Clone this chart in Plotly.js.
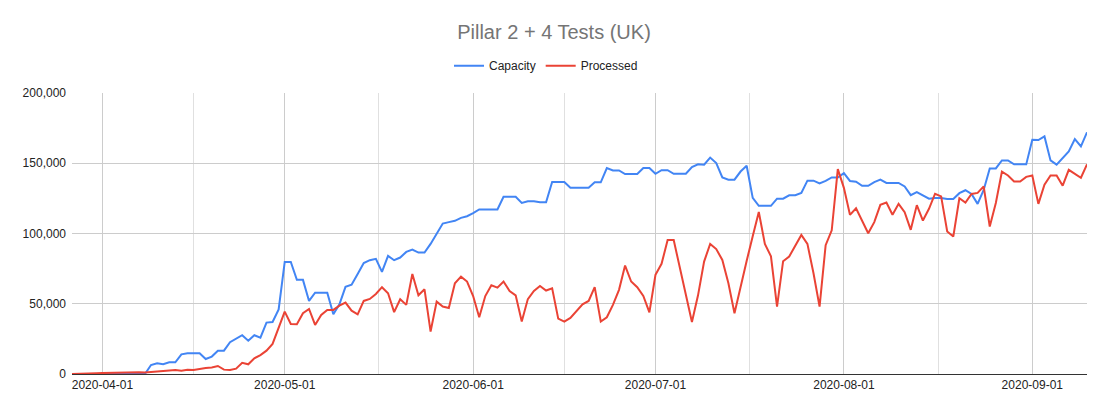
<!DOCTYPE html>
<html>
<head>
<meta charset="utf-8">
<script src="https://cdn.plot.ly/plotly-3.0.1.min.js"></script>
<style>html,body{margin:0;padding:0;background:#fff;}#chart{width:1108px;height:415px;}</style>
</head>
<body>
<div id="chart"></div>
<script>
// first day of the daily series; one value per consecutive day
const firstDate = '2020-03-27';

const capacity = [
  0,0,0,0,0,0,0,0,0,0,0,0,0,
  6400,7600,7000,8300,8300,14000,14700,14700,14700,10700,12400,16600,16600,22600,25400,
  27600,23700,27600,25900,36600,37000,46000,79800,79800,67000,67000,52000,57900,57900,57900,
  42500,49600,62000,63600,71200,79000,81000,82000,72700,84100,81000,82900,86900,88600,86400,
  86400,92600,100400,107100,108100,109000,111100,112300,114500,117100,117100,117100,117100,126100,126100,
  126100,121800,123000,123000,122300,122300,136600,136600,136600,132500,132500,132500,132500,136400,136400,
  146600,144900,144900,142300,142300,142300,146600,146600,142500,145100,145100,142500,142500,142500,147300,
  149200,149000,154000,150100,139900,138300,138300,144100,148200,125300,119700,119700,119700,124800,124800,
  127200,127200,128900,137600,137600,135600,137400,139900,139900,143000,137400,136900,133900,133900,136600,
  138300,136000,136000,136000,133500,127300,129500,127200,124800,125300,125300,124600,124600,128700,130800,
  128100,121100,131000,146300,146300,152000,152000,149200,149200,149200,166700,166500,169100,152000,149000,
  153400,158400,167200,162000,172000
];

const processed = [
  0,0,100,300,500,700,800,900,1000,1200,1400,1300,1000,
  1400,2000,2400,2800,2800,2400,3100,2800,3800,4300,4700,5700,3100,2800,3800,
  8000,6900,11200,13500,16600,21400,33700,44400,35600,35400,43200,46300,34900,42000,45600,
  45600,48700,50800,45100,42500,52000,53400,57000,61800,57500,44000,53200,49200,71200,56000,
  60300,30200,51500,48000,47000,64600,69300,65800,55500,40400,55500,63100,61500,65800,59100,
  56000,37300,53300,59100,62700,59400,61000,39400,37300,39900,45100,49600,52000,61800,37300,
  40400,49200,59900,77200,65800,61800,55500,43900,70600,78400,95300,95300,75700,56500,37000,
  56000,80000,92600,88900,81200,64600,43200,63000,80500,98000,115300,92600,83800,48000,80300,
  83600,91400,99000,92600,71700,48000,91700,102300,145800,132500,113300,118000,109200,100200,108100,
  120400,122000,113300,121100,115200,102600,120200,109200,117600,128300,126400,101400,97800,125100,122000,
  128100,128900,133500,105000,121700,144100,141300,137000,137000,140300,141300,121100,134800,141300,141300,
  134000,145300,142500,139700,149200
];

const seriesNames = ['Capacity', 'Processed'];
const monthTicks = ['2020-04-01','2020-05-01','2020-06-01','2020-07-01','2020-08-01','2020-09-01'];
const midMonthTicks = ['2020-04-16','2020-05-16 12:00','2020-06-16','2020-07-16 12:00','2020-08-16 12:00'];
const yTicks = [0, 50000, 100000, 150000, 200000];

// build consecutive day labels
const dates = [];
(function(){
  const d0 = new Date(firstDate + 'T00:00:00Z');
  for (let i = 0; i < capacity.length; i++) {
    const d = new Date(d0.getTime() + i * 86400000);
    dates.push(d.toISOString().slice(0, 10));
  }
})();

const font = 'Liberation Sans, Arial, sans-serif';

const traces = [
  {x: dates, y: capacity, name: seriesNames[0], type: 'scatter', mode: 'lines',
   line: {color: '#4285F4', width: 2}},
  {x: dates, y: processed, name: seriesNames[1], type: 'scatter', mode: 'lines',
   line: {color: '#EA4335', width: 2}}
];

const layout = {
  width: 1108, height: 415,
  margin: {l: 72, r: 21, t: 93, b: 41},
  paper_bgcolor: '#ffffff', plot_bgcolor: '#ffffff',
  font: {family: font, size: 12, color: '#222222'},
  title: {text: 'Pillar 2 + 4 Tests (UK)', x: 0.5, xanchor: 'center', y: 0.923, yanchor: 'middle',
          font: {family: font, size: 20, color: '#757575'}},
  showlegend: true,
  legend: {orientation: 'h', x: 0.467, xanchor: 'center', y: 1.097, yanchor: 'middle',
           font: {family: font, size: 12, color: '#222222'}, itemwidth: 30, tracegroupgap: 0},
  xaxis: {
    type: 'date',
    range: [dates[0], dates[dates.length - 1]],
    tickmode: 'array', tickvals: monthTicks, ticktext: monthTicks,
    showgrid: true, gridcolor: '#cccccc', gridwidth: 1,
    showline: true, linecolor: '#333333', linewidth: 1,
    zeroline: false, ticks: '',
    tickfont: {family: font, size: 12, color: '#222222'},
    minor: {tickmode: 'array', tickvals: midMonthTicks, showgrid: true, gridcolor: '#e0e0e0', gridwidth: 1, ticks: ''}
  },
  yaxis: {
    range: [0, 200000],
    tickmode: 'array', tickvals: yTicks,
    tickformat: ',d',
    showgrid: true, gridcolor: '#cccccc', gridwidth: 1,
    zeroline: false, showline: false, ticks: '',
    ticklabelstandoff: 5,
    tickfont: {family: font, size: 12, color: '#222222'}
  },
  hovermode: false
};

Plotly.newPlot('chart', traces, layout, {staticPlot: true, displayModeBar: false});
</script>
</body>
</html>
